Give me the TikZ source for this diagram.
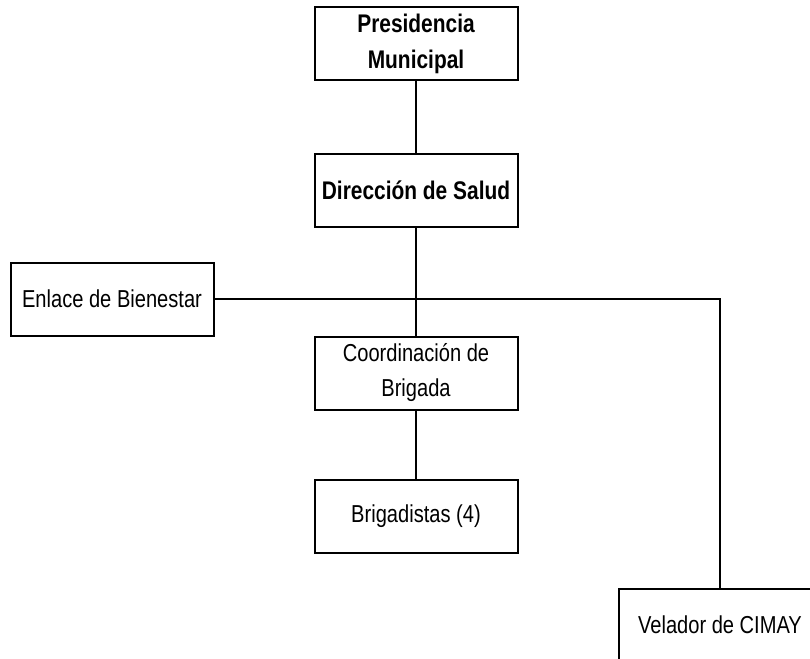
\documentclass[tikz,border=0pt]{standalone}
\usepackage{fontspec}
\setmainfont[FakeStretch=0.82]{Liberation Sans}
\usepackage{xcolor}

\begin{document}
\begin{tikzpicture}[x=1pt,y=-1pt,
    box/.style={draw, line width=2pt, minimum width=203pt, minimum height=73pt,
        align=center, inner sep=0pt, font=\fontsize{24.5}{35}\selectfont},
    bbox/.style={box, font=\fontsize{25.5}{36}\selectfont\bfseries},
    link/.style={line width=2pt}]
    \useasboundingbox (0,0) rectangle (810,658);
    \clip (0,0) rectangle (810,658);
    \node[bbox] (pres) at (416,44) {Presidencia\\Municipal};
    \node[bbox] (dir) at (416,190) {Direcci\'on de Salud};
    \node[box] (enlace) at (112,299) {Enlace de Bienestar};
    \node[box] (coord) at (416,373) {Coordinaci\'on de\\Brigada};
    \node[box] (brig) at (416,516) {Brigadistas (4)};
    \node[box] (velador) at (720,625) {Velador de CIMAY};
    \coordinate (turn) at (velador.north |- enlace.east);
    \draw[link] (pres) -- (dir);
    \draw[link] (dir) -- (coord);
    \draw[link] (coord) -- (brig);
    \draw[link] (enlace.east) -- (turn) -- (velador.north);
\end{tikzpicture}
\end{document}
